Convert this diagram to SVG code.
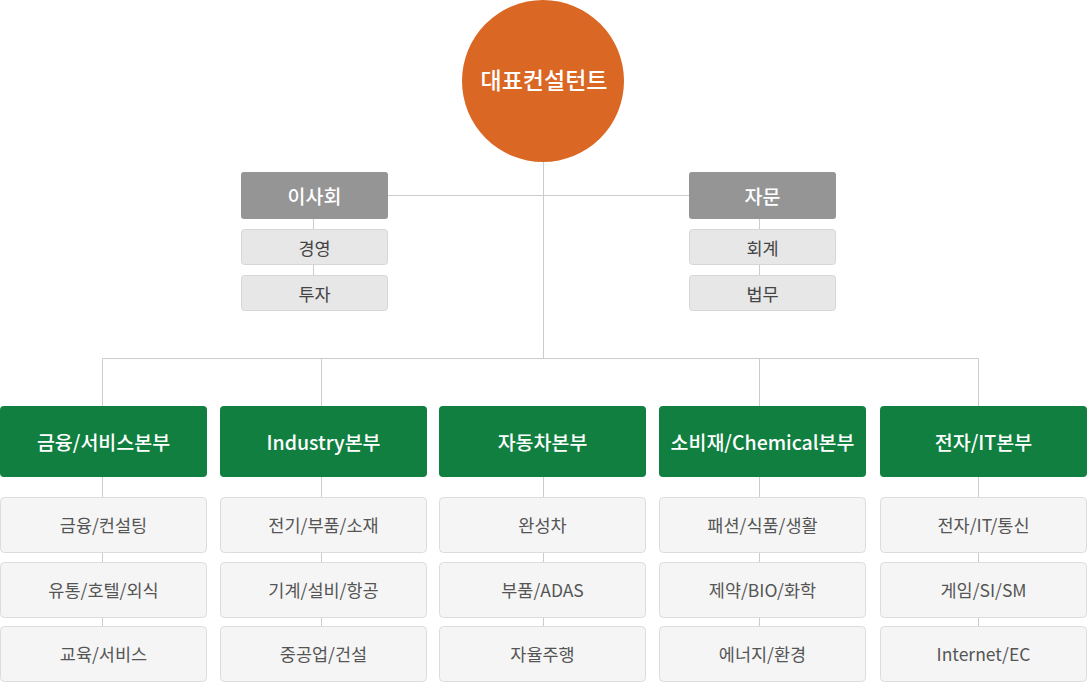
<svg xmlns="http://www.w3.org/2000/svg" width="1088" height="683" viewBox="0 0 1088 683">
<style>
text{font-family:"Noto Sans CJK KR","Noto Sans",sans-serif;text-anchor:middle;dominant-baseline:central}
.ln{stroke:#cccccc;stroke-width:1;fill:none}
.gray rect{fill:#959595}
.gray text{fill:#ffffff;font-size:19.5px;font-weight:500}
.sub rect{fill:#e7e7e7;stroke:#d6d6d6;stroke-width:1}
.sub text{fill:#444444;font-size:17.5px}
.grn rect{fill:#107f3f}
.grn text{fill:#ffffff;font-size:19.5px;font-weight:500}
.item rect{fill:#f5f5f5;stroke:#dcdcdc;stroke-width:1}
.item text{fill:#555555;font-size:17.5px}
</style>
<rect width="1088" height="683" fill="#ffffff"/>
<g id="connectors">
<path class="ln" d="M543.5 160V358.5M388 195.5H689M102.5 406V358.5H978.5V406M321.5 358.5V406M759.5 358.5V406"/>
<path class="ln" d="M313.5 219V275M759.5 219V275"/>
<path class="ln" d="M102.5 477V627M321.5 477V627M543.5 477V627M759.5 477V627M978.5 477V627"/>
</g>
<g id="ceo"><circle cx="543" cy="81" r="81" fill="#da6723"/><text x="544" y="79" fill="#ffffff" font-size="23" font-weight="500">대표컨설턴트</text></g>
<g id="board" class="gray"><rect x="241" y="172" width="147" height="47" rx="3"/><text x="314.5" y="195.5">이사회</text></g>
<g id="board1" class="sub"><rect x="241.5" y="229.5" width="146" height="35" rx="3"/><text x="314.5" y="247">경영</text></g>
<g id="board2" class="sub"><rect x="241.5" y="275.5" width="146" height="35" rx="3"/><text x="314.5" y="293">투자</text></g>
<g id="advice" class="gray"><rect x="689" y="172" width="147" height="47" rx="3"/><text x="762.5" y="195.5">자문</text></g>
<g id="advice1" class="sub"><rect x="689.5" y="229.5" width="146" height="35" rx="3"/><text x="762.5" y="247">회계</text></g>
<g id="advice2" class="sub"><rect x="689.5" y="275.5" width="146" height="35" rx="3"/><text x="762.5" y="293">법무</text></g>

<g id="div1" class="grn"><rect x="0" y="406" width="207" height="71" rx="4"/><text x="103.5" y="441">금융/서비스본부</text></g>
<g id="div2" class="grn"><rect x="220" y="406" width="207" height="71" rx="4"/><text x="323.5" y="441">Industry본부</text></g>
<g id="div3" class="grn"><rect x="439" y="406" width="207" height="71" rx="4"/><text x="542.5" y="441">자동차본부</text></g>
<g id="div4" class="grn"><rect x="659" y="406" width="207" height="71" rx="4"/><text x="762.5" y="441">소비재/Chemical본부</text></g>
<g id="div5" class="grn"><rect x="880" y="406" width="207" height="71" rx="4"/><text x="983.5" y="441">전자/IT본부</text></g>

<g id="d1a" class="item"><rect x="0.5" y="497.5" width="206" height="55" rx="4"/><text x="103.5" y="524">금융/컨설팅</text></g>
<g id="d1b" class="item"><rect x="0.5" y="562.5" width="206" height="55" rx="4"/><text x="103.5" y="589">유통/호텔/외식</text></g>
<g id="d1c" class="item"><rect x="0.5" y="626.5" width="206" height="55" rx="4"/><text x="103.5" y="653">교육/서비스</text></g>

<g id="d2a" class="item"><rect x="220.5" y="497.5" width="206" height="55" rx="4"/><text x="323.5" y="524">전기/부품/소재</text></g>
<g id="d2b" class="item"><rect x="220.5" y="562.5" width="206" height="55" rx="4"/><text x="323.5" y="589">기계/설비/항공</text></g>
<g id="d2c" class="item"><rect x="220.5" y="626.5" width="206" height="55" rx="4"/><text x="323.5" y="653">중공업/건설</text></g>

<g id="d3a" class="item"><rect x="439.5" y="497.5" width="206" height="55" rx="4"/><text x="542.5" y="524">완성차</text></g>
<g id="d3b" class="item"><rect x="439.5" y="562.5" width="206" height="55" rx="4"/><text x="542.5" y="589">부품/ADAS</text></g>
<g id="d3c" class="item"><rect x="439.5" y="626.5" width="206" height="55" rx="4"/><text x="542.5" y="653">자율주행</text></g>

<g id="d4a" class="item"><rect x="659.5" y="497.5" width="206" height="55" rx="4"/><text x="762.5" y="524">패션/식품/생활</text></g>
<g id="d4b" class="item"><rect x="659.5" y="562.5" width="206" height="55" rx="4"/><text x="762.5" y="589">제약/BIO/화학</text></g>
<g id="d4c" class="item"><rect x="659.5" y="626.5" width="206" height="55" rx="4"/><text x="762.5" y="653">에너지/환경</text></g>

<g id="d5a" class="item"><rect x="880.5" y="497.5" width="206" height="55" rx="4"/><text x="983.5" y="524">전자/IT/통신</text></g>
<g id="d5b" class="item"><rect x="880.5" y="562.5" width="206" height="55" rx="4"/><text x="983.5" y="589">게임/SI/SM</text></g>
<g id="d5c" class="item"><rect x="880.5" y="626.5" width="206" height="55" rx="4"/><text x="983.5" y="653">Internet/EC</text></g>
</svg>
